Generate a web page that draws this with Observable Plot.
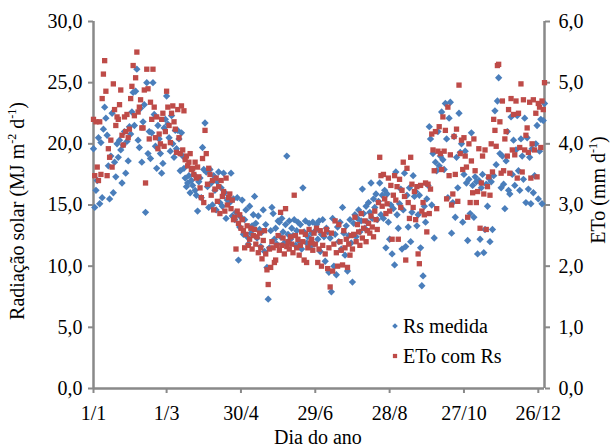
<!DOCTYPE html>
<html><head><meta charset="utf-8">
<script src="https://cdn.jsdelivr.net/npm/d3@7"></script>
<script src="https://cdn.jsdelivr.net/npm/@observablehq/plot@0.6"></script>
<style>
body{margin:0;background:#fff;}
#wrap{position:relative;width:611px;height:448px;overflow:hidden;font-family:"Liberation Serif","Times New Roman",serif;}
#wrap svg, #wrap svg text{font-family:"Liberation Serif","Times New Roman",serif !important;}
.leg{position:absolute;font-size:20px;line-height:20px;color:#000;white-space:nowrap;font-family:"Liberation Serif","Times New Roman",serif;}
.mk{position:absolute;}
</style></head><body><div id="wrap"></div>
<script>
// Rs medida (MJ m-2 d-1), one value per day of year 1..365
const rs = [
19.6,14.8,16.2,17.0,20.5,15.1,20.1,15.6,21.2,23.0,
22.1,20.7,18.2,15.5,19.0,22.5,16.0,18.5,17.3,20.0,
18.9,20.3,19.5,16.8,19.9,21.0,17.6,20.2,18.6,21.4,
20.8,22.6,24.2,21.5,24.3,26.1,20.3,19.7,22.9,18.5,
21.8,23.2,14.4,25.0,19.2,21.0,18.8,20.9,25.0,22.4,
19.8,18.0,21.5,20.4,19.2,17.6,18.4,21.3,22.0,23.9,
21.6,20.5,19.4,22.3,20.0,18.9,21.1,19.6,21.1,20.4,
17.8,20.9,19.0,18.0,17.2,16.5,16.8,17.4,16.0,17.0,
16.6,17.5,16.2,15.8,14.5,16.9,17.2,15.6,19.7,17.9,
21.7,17.7,16.5,14.8,17.9,16.8,15.0,17.4,16.2,14.6,
16.9,17.7,15.2,16.4,14.9,17.6,16.0,13.9,15.4,15.6,
15.2,17.6,14.1,15.5,13.8,14.4,15.6,10.5,13.2,14.0,
15.4,12.6,13.8,14.6,12.4,11.8,14.9,12.7,13.3,14.2,
15.7,13.5,12.3,14.1,13.0,11.6,12.8,14.6,11.2,13.4,
9.9,7.3,11.5,12.9,14.8,14.3,12.2,13.1,11.8,13.7,
13.6,12.4,13.9,12.8,11.9,13.4,19.0,12.6,13.7,12.2,
13.1,12.5,13.8,11.7,12.9,13.6,12.0,13.4,11.4,16.4,
12.8,13.7,11.9,12.4,13.5,11.6,12.7,13.6,11.8,12.9,
13.4,12.2,13.7,11.2,12.6,13.8,12.4,10.4,13.1,12.8,
9.5,12.3,7.9,13.9,10.0,12.6,9.3,13.2,12.0,13.6,
11.4,14.8,12.7,10.9,13.3,9.6,12.5,13.8,11.9,8.7,
13.5,14.2,12.4,13.9,14.6,12.8,13.7,16.3,14.3,13.1,
14.9,13.6,15.2,14.4,16.8,13.9,15.5,14.8,15.9,13.8,
15.3,16.8,14.2,15.8,13.9,16.2,11.5,15.9,13.6,12.2,
15.0,11.0,14.7,10.1,17.7,14.2,13.1,15.1,16.3,11.4,
14.6,17.6,11.6,15.8,13.2,16.4,12.0,14.4,17.4,15.7,
16.1,13.3,14.2,15.8,11.5,8.4,9.2,14.9,13.6,15.5,
16.6,21.4,20.4,15.0,19.2,12.3,18.5,17.8,21.0,18.2,
19.0,22.6,18.7,17.9,23.3,20.4,15.6,22.1,23.4,12.7,
15.2,20.6,14.0,18.9,16.4,22.5,19.3,20.0,13.6,17.5,
19.4,16.8,12.1,17.1,14.3,20.9,16.6,14.0,17.3,16.9,
11.0,17.0,12.2,16.4,17.5,11.1,13.0,16.7,14.9,17.2,
12.0,16.9,13.0,17.4,22.7,18.3,23.5,25.4,19.2,16.4,
19.0,16.7,14.7,18.6,21.0,16.2,15.9,22.2,17.5,20.3,
16.6,19.5,22.3,17.8,16.2,20.4,19.0,17.1,22.1,15.2,
20.5,16.3,18.9,15.1,19.6,16.0,17.4,20.0,21.5,15.5,
19.4,22.0,15.1,21.9,23.3
];
// ETo com Rs (mm d-1), one value per day of year 1..365
const eto = [
4.40,3.48,4.36,3.62,3.40,4.36,3.50,4.74,5.14,5.36,
4.86,3.48,3.92,3.78,4.06,3.62,4.98,4.56,4.30,4.44,
4.40,4.64,4.88,4.14,3.98,4.44,4.20,4.48,4.10,4.24,
4.74,4.94,5.28,4.46,5.08,5.50,4.52,4.60,4.72,4.26,
4.26,4.88,3.36,5.22,4.90,4.08,4.68,4.40,5.22,4.60,
4.10,4.44,3.92,4.16,4.00,4.40,4.50,3.96,4.20,4.86,
4.60,4.30,4.02,4.50,4.62,4.36,4.24,3.86,4.56,4.10,
3.84,4.62,3.90,4.54,3.74,3.80,3.64,3.70,3.84,3.58,
3.60,3.50,3.70,3.44,3.62,3.46,3.28,3.12,3.76,3.04,
4.22,3.84,3.34,3.60,3.50,3.16,3.40,2.92,3.26,3.44,
3.06,3.30,2.86,3.40,3.14,3.22,2.90,3.44,3.00,3.12,
3.18,2.94,3.08,2.76,2.80,2.28,2.90,2.70,2.84,2.62,
2.76,2.58,2.30,2.52,2.66,2.34,2.44,2.62,2.28,2.50,
2.60,2.36,2.48,2.22,2.54,2.30,2.12,2.42,2.58,2.20,
1.94,1.70,2.28,1.98,2.40,2.30,2.06,2.10,2.34,2.50,
2.26,2.88,2.34,2.46,2.20,2.94,2.32,2.40,2.28,2.48,
2.36,2.22,3.16,2.50,2.30,2.44,2.18,2.34,2.56,2.40,
2.10,2.52,2.06,2.30,2.60,2.38,2.44,2.26,2.54,2.36,
2.62,2.06,2.28,2.58,2.00,2.34,2.52,2.20,2.60,1.96,
2.30,1.66,2.54,1.92,2.36,2.74,2.22,2.00,2.68,2.40,
2.26,2.02,2.58,2.30,2.44,1.98,2.36,2.18,2.50,2.28,
2.52,2.80,2.40,2.68,2.56,2.34,2.86,2.46,2.62,2.74,
2.40,2.58,2.70,2.54,2.82,2.64,2.48,2.90,2.76,2.60,
3.04,3.78,3.48,2.98,3.50,3.10,2.86,3.02,3.44,2.90,
3.32,2.44,3.16,3.48,3.08,3.30,2.44,3.42,2.96,3.24,
3.70,3.14,2.10,3.60,3.04,2.78,3.78,3.34,2.96,3.22,
2.76,3.30,2.20,2.04,3.32,2.90,3.04,2.84,3.36,2.56,
3.34,2.86,3.26,4.16,3.90,3.56,4.20,2.94,3.88,4.28,
3.84,3.58,4.44,3.88,4.22,3.10,4.60,3.48,3.82,3.00,
3.18,4.12,3.50,4.24,3.06,4.96,3.84,4.06,3.58,4.10,
3.80,3.62,2.80,4.00,3.04,3.72,3.20,4.08,3.56,3.04,
3.22,3.92,2.62,3.36,3.80,3.18,3.90,2.60,3.30,3.46,
3.16,4.00,3.54,4.40,4.22,3.96,5.28,5.30,4.36,3.52,
4.70,3.56,4.08,4.20,3.80,4.56,3.52,4.74,3.90,4.48,
3.82,4.70,3.44,4.50,3.94,4.98,3.54,4.72,3.90,4.14,
4.26,3.86,4.68,3.44,4.00,4.72,3.90,4.50,3.46,4.66,
4.60,3.94,4.70,4.56,5.00
];
const xTicks = [1, 60, 120, 180, 240, 300, 360];
const xTickLabels = ["1/1", "1/3", "30/4", "29/6", "28/8", "27/10", "26/12"];
const yLeftTicks = [0, 5, 10, 15, 20, 25, 30];
const yRightTicks = [0, 1, 2, 3, 4, 5, 6];
const seriesNames = ["Rs medida", "ETo com Rs"];
const seriesColors = ["#4a7ebb", "#be4b48"];
const xTitle = "Dia do ano";

const rsData = rs.map((v, i) => ({day: i + 1, v}));
const etoData = eto.map((v, i) => ({day: i + 1, v}));
const ratio = 30 / 6; // left axis units per right axis unit
const fmt = d => d.toFixed(1).replace(".", ",");
const axisColor = "#898989";
const serif = "'Liberation Serif','Times New Roman',serif";

const plot = Plot.plot({
  width: 611, height: 448,
  marginLeft: 93, marginRight: 67, marginTop: 21, marginBottom: 60,
  style: {fontFamily: serif, fontSize: "20px", color: "#000", background: "#fff", overflow: "visible"},
  x: {domain: [1, 365]},
  y: {domain: [0, 30]},
  marks: [
    Plot.axisX({ticks: xTicks, tickFormat: d => xTickLabels[xTicks.indexOf(d)], tickSize: 5, tickPadding: 12, stroke: axisColor, strokeWidth: 2, fill: "#000", fontFamily: serif, label: null}),
    Plot.axisY({anchor: "left", ticks: yLeftTicks, tickFormat: fmt, tickSize: 5, tickPadding: 6, stroke: axisColor, strokeWidth: 2, fill: "#000", fontFamily: serif, label: null}),
    Plot.axisY({anchor: "right", ticks: yRightTicks.map(t => t * ratio), tickFormat: d => fmt(d / ratio), tickSize: 5, tickPadding: 9, stroke: axisColor, strokeWidth: 2, fill: "#000", fontFamily: serif, label: null}),
    Plot.ruleX([1, 365], {stroke: axisColor, strokeWidth: 2.5}),
    Plot.ruleY([0], {stroke: axisColor, strokeWidth: 2.5}),
    Plot.dot(rsData, {x: "day", y: "v", symbol: "diamond2", r: 3.3, fill: seriesColors[0], stroke: null}),
    Plot.dot(etoData, {x: "day", y: d => d.v * ratio, symbol: "square", r: 3.0, fill: seriesColors[1], stroke: null})
  ]
});

const wrap = document.getElementById("wrap");
wrap.appendChild(plot);

// axis titles as SVG text with superscripts
const svg = d3.select(plot);
const tl = svg.append("text")
  .attr("transform", "translate(24,211) rotate(-90)")
  .attr("text-anchor", "middle")
  .attr("font-size", 20).attr("fill", "#000");
tl.append("tspan").text("Radiação solar (MJ m");
tl.append("tspan").attr("font-size", 12).attr("dy", -8).text("-2");
tl.append("tspan").attr("dy", 8).text(" d");
tl.append("tspan").attr("font-size", 12).attr("dy", -8).text("-1");
tl.append("tspan").attr("dy", 8).text(")");

const tr = svg.append("text")
  .attr("transform", "translate(605,190) rotate(-90)")
  .attr("text-anchor", "middle")
  .attr("font-size", 20).attr("fill", "#000");
tr.append("tspan").text("ETo (mm d");
tr.append("tspan").attr("font-size", 12).attr("dy", -8).text("-1");
tr.append("tspan").attr("dy", 8).text(")");

svg.append("text")
  .attr("x", 318).attr("y", 444)
  .attr("text-anchor", "middle")
  .attr("font-size", 20).attr("fill", "#000")
  .text(xTitle);

// legend
const legTops = [316, 346];
seriesNames.forEach((name, i) => {
  const mk = document.createElementNS("http://www.w3.org/2000/svg", "svg");
  mk.setAttribute("width", 10); mk.setAttribute("height", 10);
  mk.setAttribute("class", "mk");
  mk.style.left = "390px"; mk.style.top = (legTops[i] + 5) + "px";
  const sym = i === 0 ? d3.symbol(d3.symbolDiamond2, 20)() : d3.symbol(d3.symbolSquare, 18)();
  d3.select(mk).append("path").attr("d", sym).attr("transform", "translate(5,5)").attr("fill", seriesColors[i]);
  wrap.appendChild(mk);
  const t = document.createElement("div");
  t.className = "leg";
  t.style.left = "403px"; t.style.top = legTops[i] + "px";
  t.textContent = name;
  wrap.appendChild(t);
});
</script>
</body></html>
